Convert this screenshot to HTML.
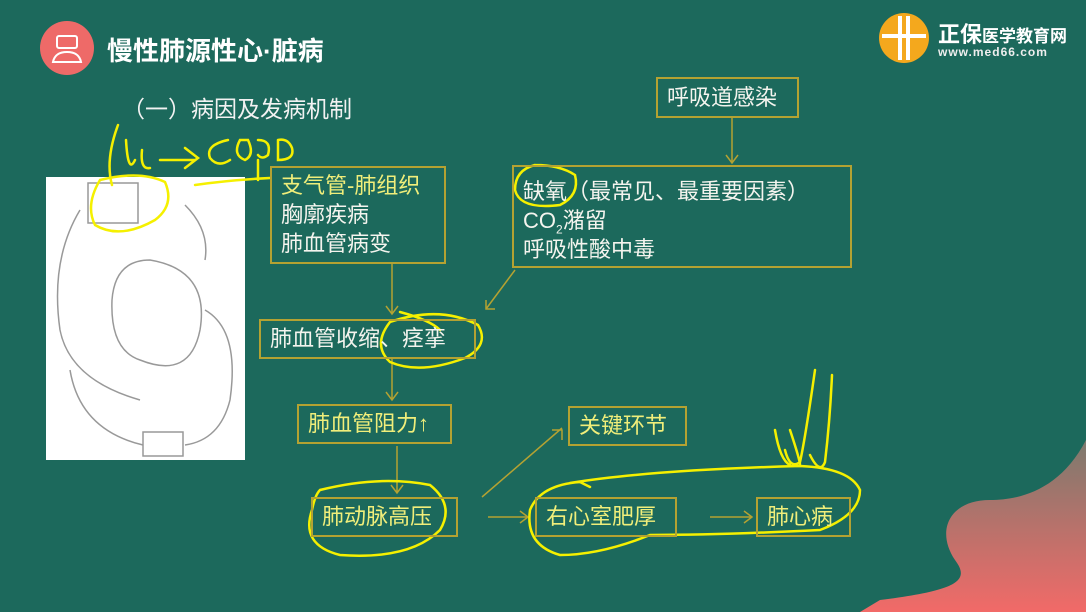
<!DOCTYPE html>
<html><head><meta charset="utf-8"><style>
body{margin:0;width:1086px;height:612px;overflow:hidden;background:#1c695c;font-family:"Liberation Sans","Noto Sans CJK SC",sans-serif;position:relative}
.b{position:absolute;border:2px solid #b4a232;box-sizing:border-box;color:#f4f4ee;font-size:22px;padding:0 9px;white-space:nowrap}
.y{color:#f0ee7a}
.t{position:absolute;white-space:nowrap}
sub{line-height:0}
</style></head><body>
<svg width="1086" height="612" style="position:absolute;left:0;top:0">
<defs><linearGradient id="g" x1="0" y1="0" x2="0" y2="1"><stop offset="0" stop-color="#7c7a6e"/><stop offset="1" stop-color="#f26a68"/></linearGradient></defs>
<path d="M1086 440 C1060 490 1020 500 990 500 C950 500 935 530 955 560 C970 580 960 590 880 600 L860 612 L1086 612Z" fill="url(#g)"/>
<circle cx="67" cy="48" r="27" fill="#ee6a68"/>
<rect x="57" y="36" width="20" height="12" rx="2" fill="none" stroke="#fff" stroke-width="2"/>
<path d="M53 62 Q55 52 67 52 Q79 52 81 62Z" fill="none" stroke="#fff" stroke-width="2"/>
<circle cx="904" cy="38" r="25" fill="#f4a81d"/>
<path d="M900 16v44M908 16v44M882 36h44" stroke="#fff" stroke-width="4"/>
<rect x="46" y="177" width="199" height="283" fill="#fff"/>
<g fill="none" stroke="#999" stroke-width="1.5">
<rect x="88" y="183" width="50" height="40"/><rect x="143" y="432" width="40" height="24"/>
<path d="M150 260 Q210 270 200 330 Q190 380 140 360 Q110 350 112 300 Q115 260 150 260Z"/>
<path d="M80 210 Q50 260 60 330 Q70 380 140 400 M185 205 Q210 230 205 260 M205 310 Q240 330 230 400 Q220 440 185 445 M70 370 Q80 430 143 445"/>
</g>
<g stroke="#b4a232" stroke-width="1.5" fill="none">
<path d="M392 264V314M386 306l6 8 6-8"/>
<path d="M732 118V163M726 155l6 8 6-8"/>
<path d="M515 270L486 309M486 300v9h9"/>
<path d="M392 359V400M386 392l6 8 6-8"/>
<path d="M397 446V493M391 485l6 8 6-8"/>
<path d="M482 497L562 428M552 430h10v10"/>
<path d="M488 517H528M520 511l8 6-8 6"/>
<path d="M710 517H752M744 511l8 6-8 6"/>
</g>
<g stroke="#f5f000" stroke-width="2.5" fill="none" stroke-linecap="round">
<path d="M118 125 Q105 160 112 185 M126 140 Q128 175 135 160 M142 150 Q140 170 150 168 M160 160 L195 160 M185 148 L198 158 L185 168"/>
<path d="M228 140 Q205 145 210 158 Q218 168 230 160 M240 140 Q232 155 245 160 Q255 155 248 140Z M258 160 V180 M258 140 Q272 140 268 155 Q262 160 258 155 M278 140 V160 Q295 160 292 148 Q288 138 278 140"/>
<path d="M195 185 Q230 180 270 178"/>
<path d="M100 180 Q140 170 165 182 Q175 205 155 220 Q120 240 95 225 Q85 205 100 180Z"/>
<path d="M390 322 Q440 305 478 325 Q490 345 465 358 Q420 375 390 362 Q372 345 390 322 M400 312 Q430 320 440 330"/>
<path d="M535 165 Q560 165 575 175 Q580 195 560 205 Q520 210 515 190 Q515 170 535 165"/>
<path d="M320 490 Q380 475 430 485 Q455 505 440 530 Q410 560 340 555 Q300 545 312 510 Q315 495 320 490"/>
<path d="M570 483 Q650 470 800 466 Q850 468 860 490 Q860 515 820 530 Q720 535 650 535 Q600 555 560 555 Q525 545 530 510 Q540 485 580 482 L590 487"/>
<path d="M785 450 Q790 470 800 462 Q805 440 815 370 M810 455 Q820 475 825 462 Q830 420 832 375 M775 430 Q780 460 790 465 M790 430 Q800 460 800 465"/>
</g>
</svg>
<div class="t" style="left:107px;top:31px;font-size:26px;font-weight:bold;color:#fff">慢性肺源性心·脏病</div>
<div class="t" style="left:938px;top:17px;font-size:22px;font-weight:bold;color:#fff">正保<span style="font-size:17px">医学教育网</span></div>
<div class="t" style="left:938px;top:45px;font-size:12px;font-weight:bold;color:#eee;letter-spacing:1px">www.med66.com</div>
<div class="t" style="left:122px;top:90px;font-size:23px;color:#f2f2f2">（一）病因及发病机制</div>
<div class="b" style="left:656px;top:77px;width:143px;height:41px;line-height:37px">呼吸道感染</div>
<div class="b" style="left:270px;top:166px;width:176px;height:98px;line-height:29px;padding-top:3px"><span class="y">支气管-肺组织</span><br>胸廓疾病<br>肺血管病变</div>
<div class="b" style="left:512px;top:165px;width:340px;height:103px;line-height:29px;padding-top:10px">缺氧（最常见、最重要因素）<br>CO<sub style="font-size:12px">2</sub>潴留<br>呼吸性酸中毒</div>
<div class="b" style="left:259px;top:319px;width:217px;height:40px;line-height:36px">肺血管收缩、痉挛</div>
<div class="b y" style="left:297px;top:404px;width:155px;height:40px;line-height:36px">肺血管阻力↑</div>
<div class="b y" style="left:568px;top:406px;width:119px;height:40px;line-height:36px">关键环节</div>
<div class="b y" style="left:311px;top:497px;width:147px;height:40px;line-height:36px">肺动脉高压</div>
<div class="b y" style="left:535px;top:497px;width:142px;height:40px;line-height:36px">右心室肥厚</div>
<div class="b y" style="left:756px;top:497px;width:95px;height:40px;line-height:36px">肺心病</div>
</body></html>
